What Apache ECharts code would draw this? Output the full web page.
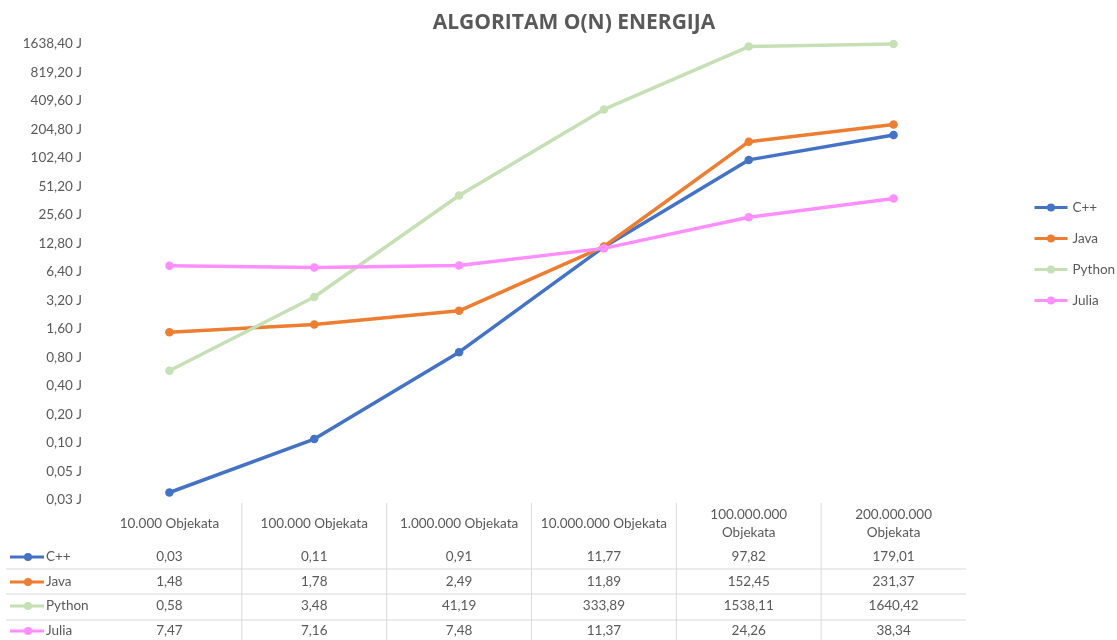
<!DOCTYPE html>
<html>
<head>
<meta charset="utf-8">
<script src="https://cdn.jsdelivr.net/npm/echarts@6/dist/echarts.min.js"></script>
<style>
html,body{margin:0;padding:0;background:#fff;}
#c{width:1117px;height:640px;}
</style>
</head>
<body>
<div id="c"></div>
<script>
// ---- data ----
var categories = ['10.000 Objekata', '100.000 Objekata', '1.000.000 Objekata', '10.000.000 Objekata', '100.000.000\nObjekata', '200.000.000\nObjekata'];
var seriesNames = ['C++', 'Java', 'Python', 'Julia'];
var cppValues    = [0.03, 0.11, 0.91, 11.77, 97.82, 179.01];
var javaValues   = [1.48, 1.78, 2.49, 11.89, 152.45, 231.37];
var pythonValues = [0.58, 3.48, 41.19, 333.89, 1538.11, 1640.42];
var juliaValues  = [7.47, 7.16, 7.48, 11.37, 24.26, 38.34];
var yTickLabels = ['0,03 J', '0,05 J', '0,10 J', '0,20 J', '0,40 J', '0,80 J', '1,60 J', '3,20 J', '6,40 J', '12,80 J', '25,60 J', '51,20 J', '102,40 J', '204,80 J', '409,60 J', '819,20 J', '1638,40 J'];
var yMin = 0.025, yMax = 1638.4;

var colors = ['#4472C4', '#ED7D31', '#C5E0B4', '#FF8EFF'];
var allValues = [cppValues, javaValues, pythonValues, juliaValues];

// ---- layout ----
var GL = 97, GR = 966, GT = 44, GB = 500;
var colW = (GR - GL) / categories.length;
var rowY = [557, 582, 606, 631];
var hLines = [569, 594, 620];
var textColor = '#595959';
var font = 'Lato';

function fmt(v) { return v.toFixed(2).replace('.', ','); }

var graphics = [];
for (var i = 1; i < categories.length; i++) {
  graphics.push({type: 'line', shape: {x1: GL + i * colW, y1: 503, x2: GL + i * colW, y2: 640},
    style: {stroke: '#D9D9D9', lineWidth: 1}, silent: true});
}
hLines.forEach(function (y) {
  graphics.push({type: 'line', shape: {x1: 6, y1: y, x2: GR, y2: y},
    style: {stroke: '#D9D9D9', lineWidth: 1}, silent: true});
});
seriesNames.forEach(function (name, r) {
  var y = rowY[r];
  graphics.push({type: 'line', shape: {x1: 10, y1: y, x2: 44, y2: y},
    style: {stroke: colors[r], lineWidth: 3}, silent: true});
  graphics.push({type: 'circle', shape: {cx: 28, cy: y, r: 4},
    style: {fill: colors[r]}, silent: true});
  graphics.push({type: 'text', x: 46, y: y,
    style: {text: name, fill: textColor, font: '13.5px ' + font, textAlign: 'left', textVerticalAlign: 'middle'}, silent: true});
  allValues[r].forEach(function (v, c) {
    graphics.push({type: 'text', x: GL + (c + 0.5) * colW, y: y,
      style: {text: fmt(v), fill: textColor, font: '13.5px ' + font, textAlign: 'center', textVerticalAlign: 'middle'}, silent: true});
  });
});

var chart = echarts.init(document.getElementById('c'), null, {renderer: 'canvas'});
chart.setOption({
  animation: false,
  backgroundColor: '#ffffff',
  title: {
    text: 'ALGORITAM O(N) ENERGIJA',
    left: 569, top: 8, textAlign: 'center',
    textStyle: {fontFamily: 'Open Sans', fontWeight: 'bold', fontSize: 21, color: textColor}
  },
  legend: {
    orient: 'vertical', left: 1033, top: 200, padding: 0,
    itemWidth: 33, itemHeight: 10, itemGap: 16,
    data: seriesNames,
    lineStyle: {width: 3},
    textStyle: {fontFamily: font, fontSize: 13.5, color: textColor, lineHeight: 15}
  },
  grid: {left: GL, right: 1117 - GR, top: GT, bottom: 640 - GB, containLabel: false},
  xAxis: {
    type: 'category', data: categories, boundaryGap: true,
    axisLine: {show: false}, axisTick: {show: false},
    axisLabel: {margin: 24, verticalAlign: 'middle', lineHeight: 18, color: textColor, fontFamily: font, fontSize: 13.5, interval: 0}
  },
  yAxis: [{
    type: 'log', logBase: 2, min: yMin, max: yMax,
    axisLine: {show: false}, axisTick: {show: false}, axisLabel: {show: false}, splitLine: {show: false}
  }, {
    type: 'value', min: 0, max: yTickLabels.length - 1, interval: 1, position: 'left',
    axisLine: {show: false}, axisTick: {show: false}, splitLine: {show: false},
    axisLabel: {margin: 15, color: textColor, fontFamily: font, fontSize: 13.5,
      formatter: function (v) { return yTickLabels[Math.round(v)]; }}
  }],
  series: seriesNames.map(function (name, r) {
    return {
      name: name, type: 'line', yAxisIndex: 0, data: allValues[r],
      symbol: 'circle', symbolSize: 8.5, showSymbol: true, clip: false,
      lineStyle: {width: 3.5, color: colors[r]},
      itemStyle: {color: colors[r]},
      z: 2 + (r === 3 ? 1 : 0)
    };
  }),
  graphic: graphics
});
</script>
</body>
</html>
